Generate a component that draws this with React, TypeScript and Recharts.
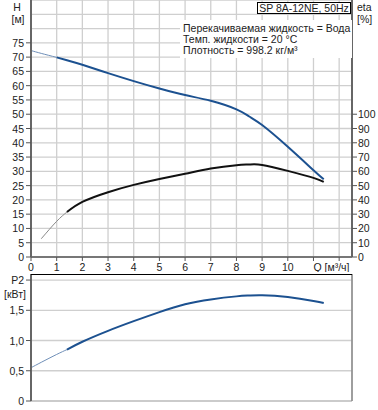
import React from 'react';
import { LineChart, Line, XAxis, YAxis, CartesianGrid } from 'recharts';

// Pump curves, Q in m³/h
const flow = [0, 0.4, 1, 1.4, 2, 3, 4, 5, 6, 7, 8, 8.5, 9, 10, 11, 11.4];
const head = [72.3, 71.3, 69.9, 68.9, 67.3, 64.4, 61.6, 59.0, 56.7, 54.7, 51.7, 49.2, 46.2, 38.6, 30.4, 27.2];
const efficiency = [null, 12.8, 25.0, 31.5, 38.6, 45.4, 50.5, 54.7, 58.3, 62.0, 64.3, 64.8, 64.5, 60.3, 55.4, 52.6];
const power = [0.55, 0.64, 0.77, 0.85, 0.98, 1.16, 1.32, 1.47, 1.6, 1.68, 1.73, 1.745, 1.75, 1.72, 1.655, 1.62];

const qTicks = [0, 1, 2, 3, 4, 5, 6, 7, 8, 9, 10, 11, 12];
const headTicks = [0, 5, 10, 15, 20, 25, 30, 35, 40, 45, 50, 55, 60, 65, 70, 75, 80, 85, 90];
const etaTicks = [0, 10, 20, 30, 40, 50, 60, 70, 80, 90, 100];
const powerTicks = [0, 0.5, 1, 1.5, 2];
const powerLabels = ['0', '0,5', '1,0', '1,5', 'P2'];

// where the thin (extrapolated) start of each curve ends
const headThinEnd = 1;
const etaThinEnd = 1.4;
const powerThinEnd = 1.4;

const rows = flow.map((q, i) => ({
  q,
  hThin: q <= headThinEnd ? head[i] : null,
  h: q >= headThinEnd ? head[i] : null,
  etaThin: q <= etaThinEnd ? efficiency[i] : null,
  eta: q >= etaThinEnd ? efficiency[i] : null,
  pThin: q <= powerThinEnd ? power[i] : null,
  p: q >= powerThinEnd ? power[i] : null,
}));

const FONT = '"Liberation Sans", Arial, sans-serif';
const FS = 10.5;
const BLUE = '#1c5190';
const TXT = '#222';

const LeftTick = (props: any, maxVal: number, label?: (v: number) => string) => {
  const { x, y, payload } = props;
  const v = payload.value;
  if (v > maxVal) return <g />;
  return (
    <g>
      <line x1={x - 5} x2={x} y1={y} y2={y} stroke="#555" />
      <text x={x - 7} y={y + 4} textAnchor="end" fontSize={FS} fontFamily={FONT} fill={TXT}>
        {label ? label(v) : String(v)}
      </text>
    </g>
  );
};

const EtaTick = (props: any) => {
  const { x, y, payload } = props;
  return (
    <g>
      <line x1={x} x2={x + 5} y1={y} y2={y} stroke="#555" />
      <text x={x + 6} y={y + 4} textAnchor="start" fontSize={FS} fontFamily={FONT} fill={TXT}>
        {payload.value}
      </text>
    </g>
  );
};

const FlowTick = (props: any) => {
  const { x, y, payload } = props;
  const v = payload.value;
  let text: React.ReactNode = null;
  if (v <= 10) {
    text = (
      <text x={x} y={y + 14} textAnchor="middle" fontSize={FS} fontFamily={FONT} fill={TXT}>
        {v}
      </text>
    );
  } else if (v === 11) {
    text = (
      <text x={x} y={y + 14} textAnchor="start" fontSize={FS} fontFamily={FONT} fill={TXT}>
        Q [м³/ч]
      </text>
    );
  }
  return (
    <g>
      <line x1={x} x2={x} y1={y} y2={y + 4} stroke="#555" />
      {text}
    </g>
  );
};

const abs = (left: number, top: number, extra: React.CSSProperties = {}): React.CSSProperties => ({
  position: 'absolute',
  left,
  top,
  fontSize: FS,
  lineHeight: '12px',
  color: TXT,
  whiteSpace: 'nowrap',
  ...extra,
});

export default function App() {
  return (
    <div style={{ position: 'absolute', left: 0, top: 0, width: 378, height: 410, fontFamily: FONT, background: '#fff' }}>
      <div style={{ position: 'absolute', left: 0, top: 0 }}>
        <LineChart width={378} height={272} data={rows} margin={{ top: 0, right: 0, left: 0, bottom: 0 }}>
          <CartesianGrid stroke="#cfcfcf" strokeWidth={1.3} />
          <XAxis
            type="number"
            dataKey="q"
            domain={[0, 12.5]}
            ticks={qTicks}
            interval={0}
            height={15}
            tickSize={0}
            tickMargin={0}
            tickLine={false}
            tick={FlowTick}
            axisLine={{ stroke: '#777', strokeWidth: 2 }}
          />
          <YAxis
            domain={[0, 90]}
            ticks={headTicks}
            interval={0}
            width={31}
            tickSize={0}
            tickMargin={0}
            tickLine={false}
            tick={(p: any) => LeftTick(p, 75)}
            axisLine={{ stroke: '#666', strokeWidth: 2 }}
          />
          <YAxis
            yAxisId="eta"
            orientation="right"
            domain={[0, 180]}
            ticks={etaTicks}
            interval={0}
            width={26}
            tickSize={0}
            tickMargin={0}
            tickLine={false}
            tick={EtaTick}
            axisLine={{ stroke: '#666', strokeWidth: 2 }}
          />
          <Line dataKey="hThin" stroke="#6f8fb8" strokeWidth={1} dot={false} type="natural" isAnimationActive={false} />
          <Line dataKey="h" stroke={BLUE} strokeWidth={2} dot={false} type="natural" isAnimationActive={false} />
          <Line yAxisId="eta" dataKey="etaThin" stroke="#8a8a8a" strokeWidth={1} dot={false} type="natural" isAnimationActive={false} />
          <Line yAxisId="eta" dataKey="eta" stroke="#111" strokeWidth={2} dot={false} type="natural" isAnimationActive={false} />
        </LineChart>
      </div>

      <div style={{ position: 'absolute', left: 0, top: 274 }}>
        <LineChart width={378} height={136} data={rows} margin={{ top: 0, right: 0, left: 0, bottom: 0 }}>
          <CartesianGrid stroke="#cfcfcf" strokeWidth={1.3} />
          <XAxis
            type="number"
            dataKey="q"
            domain={[0, 12.5]}
            ticks={qTicks}
            interval={0}
            height={9}
            tick={false}
            tickLine={false}
            axisLine={{ stroke: '#bbb' }}
          />
          <YAxis
            domain={[0, 2.1]}
            ticks={powerTicks}
            interval={0}
            width={31}
            tickSize={0}
            tickMargin={0}
            tickLine={false}
            tick={(p: any) => LeftTick(p, 2, (v) => powerLabels[powerTicks.indexOf(v)])}
            axisLine={{ stroke: '#666', strokeWidth: 2 }}
          />
          <YAxis yAxisId="r" orientation="right" domain={[0, 2.1]} width={26} tick={false} tickLine={false} axisLine={{ stroke: '#888', strokeWidth: 1.5 }} />
          <Line dataKey="pThin" stroke="#6f8fb8" strokeWidth={1} dot={false} type="natural" isAnimationActive={false} />
          <Line dataKey="p" stroke={BLUE} strokeWidth={2} dot={false} type="natural" isAnimationActive={false} />
        </LineChart>
      </div>
      <div style={{ position: 'absolute', left: 31, top: 274, width: 321, height: 1, background: '#000' }} />

      <div style={abs(0, 0.5, { width: 34, textAlign: 'center' })}>H</div>
      <div style={abs(0, 12.5, { width: 36, textAlign: 'center' })}>[м]</div>
      <div style={abs(357, 1)}>eta</div>
      <div style={abs(357, 12.5)}>[%]</div>
      <div style={abs(0, 287.5, { width: 26, textAlign: 'right' })}>[кВт]</div>

      <div
        style={abs(257, 2, {
          width: 94,
          height: 12,
          boxSizing: 'border-box',
          border: '1px solid #000',
          background: '#fff',
          textAlign: 'center',
          lineHeight: '10px',
        })}
      >
        SP 8A-12NE, 50Hz
      </div>

      <div style={abs(180, 20, { width: 172, height: 38, background: '#fff', lineHeight: '11px', paddingTop: 3, paddingLeft: 3, boxSizing: 'border-box' })}>
        <div>Перекачиваемая жидкость = Вода</div>
        <div>Темп. жидкости = 20 °C</div>
        <div>Плотность = 998.2 кг/м³</div>
      </div>
    </div>
  );
}
